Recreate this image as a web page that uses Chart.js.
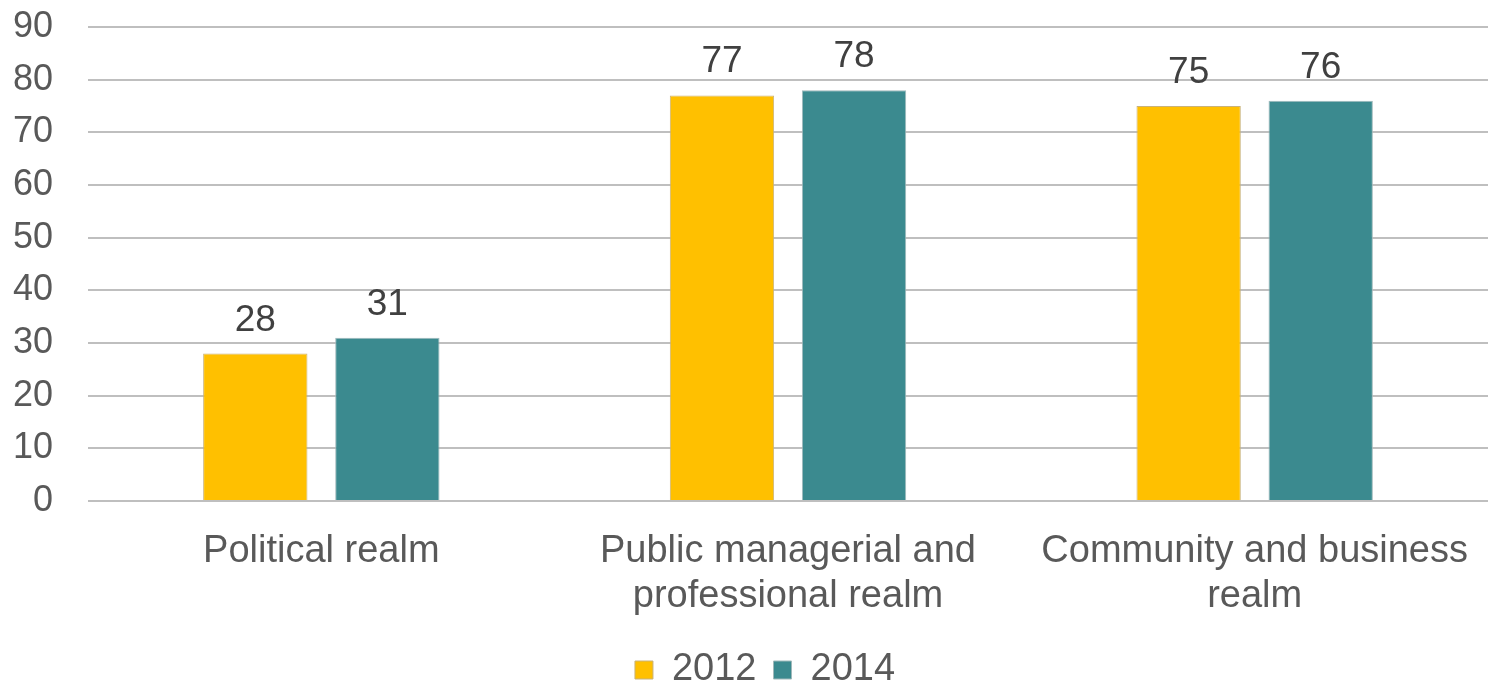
<!DOCTYPE html>
<html>
<head>
<meta charset="utf-8">
<script src="https://cdn.jsdelivr.net/npm/chart.js@4/dist/chart.umd.min.js"></script>
<style>
  html, body { margin: 0; padding: 0; background: #fff; }
  #wrap { width: 1488px; height: 682px; }
</style>
</head>
<body>
<div id="wrap"><canvas id="realmChart" width="1488" height="682"></canvas></div>
<script>
const categories = [
    ['Political realm'],
    ['Public managerial and', 'professional realm'],
    ['Community and business', 'realm']
];
const values2012 = [28, 77, 75];
const values2014 = [31, 78, 76];
const yTicks = [0, 10, 20, 30, 40, 50, 60, 70, 80, 90];

const FONT = '"Liberation Sans", Arial, sans-serif';

// draws the numbers above each bar
const barLabels = {
    id: 'barLabels',
    afterDatasetsDraw(chart) {
        const c = chart.ctx;
        c.save();
        c.font = '37px ' + FONT;
        c.fillStyle = '#404040';
        c.textAlign = 'center';
        c.textBaseline = 'alphabetic';
        chart.data.datasets.forEach((ds, i) => {
            chart.getDatasetMeta(i).data.forEach((bar, j) => {
                c.fillText(ds.data[j], bar.x, bar.y - 23);
            });
        });
        c.restore();
    }
};

// the legend in the original sits a little right of the page centre
const legendShift = {
    id: 'legendShift',
    afterLayout(chart) {
        chart.legend.left += 21;
        chart.legend.right += 21;
    }
};

const ctx = document.getElementById('realmChart').getContext('2d');
const realmChart = new Chart(ctx, {
    type: 'bar',
    data: {
        labels: categories,
        datasets: [{
            label: '2012',
            data: values2012,
            backgroundColor: '#ffc000',
            borderColor: '#c9b27a',
            borderWidth: 1,
            categoryPercentage: 0.566,
            barPercentage: 0.79
        }, {
            label: '2014',
            data: values2014,
            backgroundColor: '#3b8a8f',
            borderColor: '#9fb8ba',
            borderWidth: 1,
            categoryPercentage: 0.566,
            barPercentage: 0.79
        }]
    },
    options: {
        responsive: false,
        animation: false,
        layout: {
            padding: { top: 27, right: 0, bottom: -17, left: 0 }
        },
        plugins: {
            tooltip: { enabled: false },
            legend: {
                position: 'bottom',
                labels: {
                    color: '#595959',
                    font: { family: FONT, size: 38 },
                    boxWidth: 18,
                    boxHeight: 18,
                    padding: 17,
                    generateLabels(chart) {
                        return chart.data.datasets.map((ds, i) => ({
                            text: ds.label,
                            fillStyle: ds.backgroundColor,
                            strokeStyle: ds.borderColor,
                            lineWidth: 1,
                            fontColor: '#595959',
                            datasetIndex: i
                        }));
                    }
                }
            }
        },
        scales: {
            x: {
                grid: { display: false },
                border: { display: false },
                ticks: {
                    color: '#595959',
                    font: { family: FONT, size: 38, lineHeight: 1.18 },
                    padding: 20,
                    maxRotation: 0,
                    autoSkip: false
                },
                afterFit(scale) { scale.height = 133; }
            },
            y: {
                min: 0,
                max: 90,
                afterBuildTicks(scale) {
                    scale.ticks = yTicks.map(v => ({ value: v }));
                },
                grid: {
                    color: '#bfbfbf',
                    lineWidth: 2,
                    drawTicks: false
                },
                border: { display: false },
                ticks: {
                    color: '#595959',
                    font: { family: FONT, size: 36 },
                    padding: 35
                },
                afterFit(scale) {
                    scale.width = 88;
                    scale.paddingTop = 0;
                    scale.paddingBottom = 0;
                }
            }
        }
    },
    plugins: [barLabels, legendShift]
});
</script>
</body>
</html>
